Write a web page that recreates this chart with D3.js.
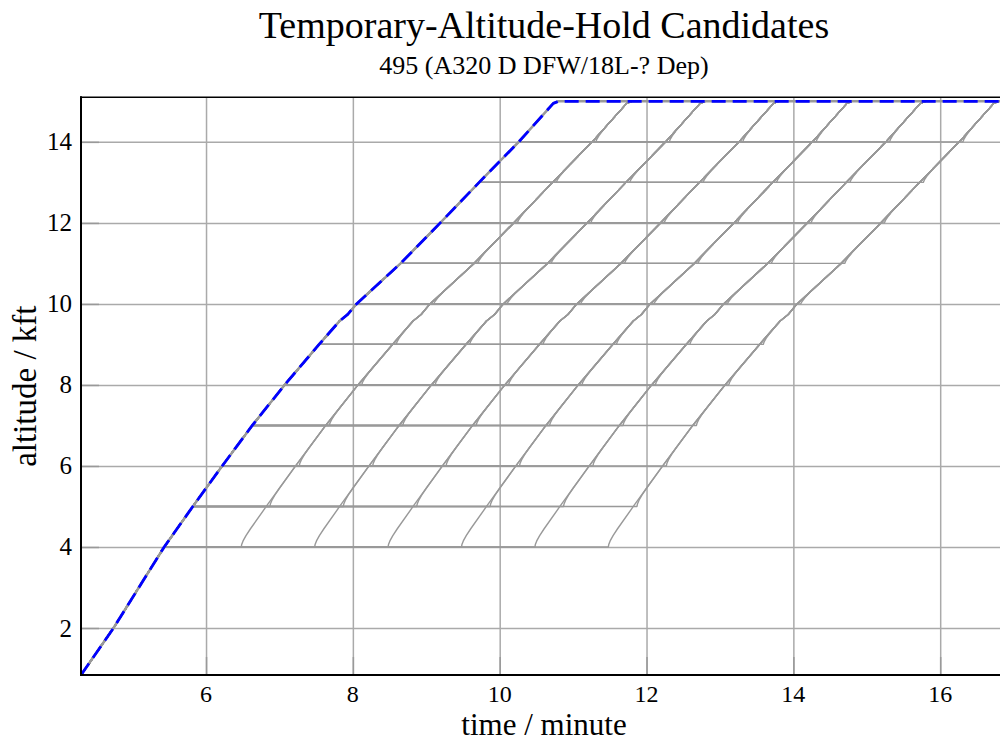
<!DOCTYPE html>
<html>
<head>
<meta charset="utf-8">
<script src="https://cdn.jsdelivr.net/npm/d3@7"></script>
<style>
  html, body { margin: 0; padding: 0; background: #fff; }
  svg { display: block; font-family: "Liberation Serif", "DejaVu Serif", serif; }
</style>
</head>
<body>
<svg id="chart" width="1000" height="742"></svg>
<script>
// Nominal (unrestricted) climb profile: time in minutes, altitude in kft
const nominalTime = [4.297, 4.74, 5.43, 5.82, 6.22, 6.63, 7.07, 7.54, 7.82, 7.93, 8.05, 8.65, 9.19, 9.72, 10.26, 10.73, 10.8];
const nominalAlt  = [0.84, 2.0, 4.0, 5.0, 6.0, 7.0, 8.0, 9.0, 9.58, 9.74, 10.0, 11.0, 12.0, 13.0, 14.0, 14.95, 15.0];
const cruiseAlt = 15;

// Temporary hold levels (kft) and hold durations (minutes)
const holdLevels = [4, 5, 6, 7, 8, 9, 10, 11, 12, 13, 14];
const holdDurations = [1, 2, 3, 4, 5, 6];

// Climb resumption after a hold: height above the hold level (kft)
// and extra time behind the delayed nominal profile (minutes)
const resumeHeight = [0, 0.06, 0.15, 0.28, 0.45];
const resumeLag    = [0.05, 0.032, 0.016, 0.005, 0];

const xTicks = [6, 8, 10, 12, 14, 16];
const yTicks = [2, 4, 6, 8, 10, 12, 14];

const titleText = "Temporary-Altitude-Hold Candidates";
const subtitleText = "495 (A320 D DFW/18L-? Dep)";
const xLabel = "time / minute";
const yLabel = "altitude / kft";

const svg = d3.select("#chart");
const margin = { left: 81, top: 97.3, right: 1007, bottom: 675 };
const x = d3.scaleLinear().domain([4.297, 16.91]).range([margin.left, margin.right]);
const y = d3.scaleLinear().domain([0.84, 15.1]).range([margin.bottom, margin.top]);
const plotW = margin.right - margin.left;
const plotH = margin.bottom - margin.top;

svg.append("defs").append("clipPath").attr("id", "plot-clip")
  .append("rect").attr("x", margin.left).attr("y", margin.top)
  .attr("width", plotW).attr("height", plotH);

// Grid
const gridColor = "#aaaaaa";
const gx = svg.append("g").attr("transform", `translate(0,${margin.bottom})`)
  .call(d3.axisBottom(x).tickValues(xTicks).tickSize(-plotH).tickFormat(""));
const gy = svg.append("g").attr("transform", `translate(${margin.left},0)`)
  .call(d3.axisLeft(y).tickValues(yTicks).tickSize(-plotW).tickFormat(""));
[gx, gy].forEach(g => {
  g.select(".domain").remove();
  g.selectAll("line").attr("stroke", gridColor).attr("stroke-width", 1.5);
});

// Inward tick marks
const tx = svg.append("g").attr("transform", `translate(0,${margin.bottom})`)
  .call(d3.axisBottom(x).tickValues(xTicks).tickSize(-18).tickFormat(""));
const ty = svg.append("g").attr("transform", `translate(${margin.left},0)`)
  .call(d3.axisLeft(y).tickValues(yTicks).tickSize(-18).tickFormat(""));
[tx, ty].forEach(g => {
  g.select(".domain").remove();
  g.selectAll("line").attr("stroke", "#999999").attr("stroke-width", 1.5);
});

// Altitude -> time along the nominal climb
const timeAtAlt = d3.scaleLinear().domain(nominalAlt).range(nominalTime);

function candidatePath(level, hold) {
  const pts = [];
  nominalTime.forEach((t, i) => { if (nominalAlt[i] < level) pts.push([t, nominalAlt[i]]); });
  const tLevel = timeAtAlt(level);
  pts.push([tLevel, level]);
  resumeHeight.forEach((h, i) => {
    const a = Math.min(level + h, cruiseAlt);
    pts.push([timeAtAlt(a) + hold + resumeLag[i], a]);
  });
  const joinAlt = level + resumeHeight[resumeHeight.length - 1];
  nominalTime.forEach((t, i) => { if (nominalAlt[i] > joinAlt) pts.push([t + hold, nominalAlt[i]]); });
  pts.push([x.domain()[1] + 0.2, cruiseAlt]);
  return pts;
}

const line = d3.line().x(d => x(d[0])).y(d => y(d[1]));
const plot = svg.append("g").attr("clip-path", "url(#plot-clip)");

const candidates = [];
holdLevels.forEach(level => holdDurations.forEach(hold => candidates.push(candidatePath(level, hold))));

plot.selectAll("path.candidate").data(candidates).join("path")
  .attr("class", "candidate")
  .attr("d", line)
  .attr("fill", "none")
  .attr("stroke", "#999999")
  .attr("stroke-width", 1.4)
  .attr("stroke-linejoin", "round");

// Nominal profile: gray base with blue dashes on top
const nominalPts = nominalTime.map((t, i) => [t, nominalAlt[i]]);
nominalPts.push([x.domain()[1] + 0.2, cruiseAlt]);
plot.append("path").attr("d", line(nominalPts))
  .attr("fill", "none").attr("stroke", "#999999").attr("stroke-width", 2.5);
plot.append("path").attr("d", line(nominalPts))
  .attr("fill", "none").attr("stroke", "#0000ff").attr("stroke-width", 2.8)
  .attr("stroke-dasharray", "14,7").attr("stroke-linejoin", "round");

// Axis frame: left, bottom, top
svg.append("line").attr("x1", margin.left).attr("x2", margin.left)
  .attr("y1", margin.top - 1).attr("y2", margin.bottom + 1)
  .attr("stroke", "#000").attr("stroke-width", 2);
svg.append("line").attr("x1", margin.left - 1).attr("x2", 1000)
  .attr("y1", margin.bottom).attr("y2", margin.bottom)
  .attr("stroke", "#000").attr("stroke-width", 2);
svg.append("line").attr("x1", margin.left - 1).attr("x2", 1000)
  .attr("y1", margin.top).attr("y2", margin.top)
  .attr("stroke", "#000").attr("stroke-width", 1.6);

// Tick labels
svg.append("g").selectAll("text").data(xTicks).join("text")
  .attr("x", d => x(d)).attr("y", 702)
  .attr("text-anchor", "middle").attr("font-size", 24).attr("fill", "#000")
  .text(d => d);
svg.append("g").selectAll("text").data(yTicks).join("text")
  .attr("x", 72).attr("y", d => y(d) + 8.5)
  .attr("text-anchor", "end").attr("font-size", 25).attr("fill", "#000")
  .text(d => d);

// Titles and axis labels
const cx = (margin.left + margin.right) / 2;
svg.append("text").attr("x", cx).attr("y", 38).attr("text-anchor", "middle")
  .attr("font-size", 38).attr("fill", "#000").text(titleText);
svg.append("text").attr("x", cx).attr("y", 74).attr("text-anchor", "middle")
  .attr("font-size", 26).attr("fill", "#000").text(subtitleText);
svg.append("text").attr("x", cx).attr("y", 735).attr("text-anchor", "middle")
  .attr("font-size", 31).attr("fill", "#000").text(xLabel);
svg.append("text").attr("transform", `translate(36,${(margin.top + margin.bottom) / 2}) rotate(-90)`)
  .attr("text-anchor", "middle").attr("font-size", 33).attr("fill", "#000").text(yLabel);
</script>
</body>
</html>
